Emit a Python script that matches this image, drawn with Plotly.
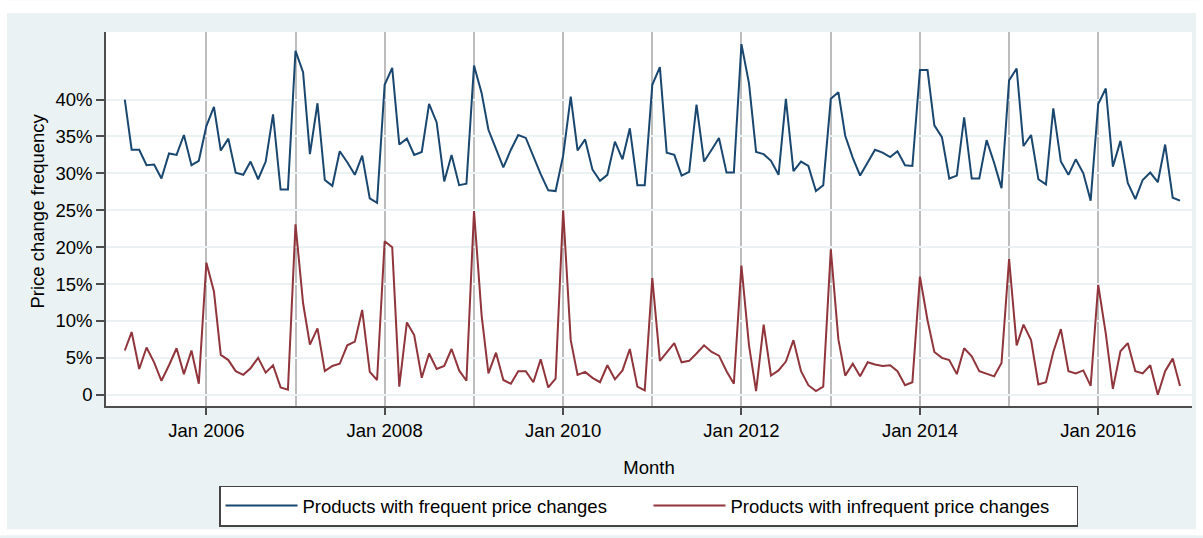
import pandas as pd
import plotly.graph_objects as go

# Monthly observations, Feb 2005 - Dec 2016
months = pd.date_range("2005-02-01", "2016-12-01", freq="MS")

# Share of products changing price (%), frequent changers
frequent = [
    40.0, 33.2, 33.2, 31.1, 31.2, 29.3, 32.7, 32.5, 35.2, 31.1, 31.7,
    36.4, 39.0, 33.1, 34.7, 30.1, 29.8, 31.6, 29.2, 31.6, 38.0, 27.8, 27.8,
    46.6, 43.7, 32.6, 39.5, 29.1, 28.3, 33.0, 31.5, 29.8, 32.4, 26.6, 26.0,
    42.0, 44.3, 33.9, 34.7, 32.5, 32.9, 39.4, 36.9, 28.9, 32.5, 28.4, 28.6,
    44.6, 40.9, 35.9, 33.3, 30.8, 33.2, 35.2, 34.8, 32.3, 29.9, 27.7, 27.6,
    32.4, 40.4, 33.1, 34.6, 30.5, 29.0, 29.8, 34.3, 31.9, 36.1, 28.4, 28.4,
    42.0, 44.4, 32.8, 32.5, 29.7, 30.2, 39.3, 31.6, 33.2, 34.8, 30.1, 30.1,
    47.5, 42.2, 32.9, 32.6, 31.7, 29.8, 40.1, 30.3, 31.6, 31.0, 27.6, 28.4,
    40.1, 41.0, 35.1, 32.1, 29.7, 31.4, 33.2, 32.8, 32.2, 33.0, 31.1, 31.0,
    44.0, 44.0, 36.5, 34.9, 29.3, 29.7, 37.6, 29.3, 29.3, 34.5, 31.4, 28.0,
    42.6, 44.2, 33.7, 35.2, 29.2, 28.5, 38.8, 31.6, 29.8, 31.9, 30.0, 26.3,
    39.4, 41.5, 30.9, 34.4, 28.7, 26.5, 29.1, 30.1, 28.8, 33.9, 26.7, 26.3,
]

# Share of products changing price (%), infrequent changers
infrequent = [
    6.0, 8.5, 3.5, 6.4, 4.4, 1.9, 4.0, 6.3, 2.8, 6.0, 1.5,
    17.9, 14.0, 5.4, 4.7, 3.2, 2.7, 3.6, 5.0, 3.0, 4.0, 1.0, 0.7,
    23.1, 12.4, 6.8, 9.0, 3.2, 3.9, 4.2, 6.7, 7.2, 11.5, 3.1, 2.0,
    20.8, 20.0, 1.1, 9.8, 8.1, 2.3, 5.6, 3.5, 3.9, 6.2, 3.3, 1.9,
    24.9, 10.8, 2.9, 5.7, 2.0, 1.5, 3.2, 3.2, 1.7, 4.8, 1.0, 2.2,
    25.0, 7.4, 2.7, 3.1, 2.3, 1.7, 4.0, 2.1, 3.3, 6.2, 1.1, 0.6,
    15.8, 4.6, 5.8, 7.0, 4.4, 4.6, 5.6, 6.7, 5.8, 5.3, 3.2, 1.5,
    17.5, 6.7, 0.5, 9.5, 2.6, 3.3, 4.5, 7.4, 3.2, 1.3, 0.5, 1.1,
    19.7, 7.5, 2.6, 4.2, 2.5, 4.4, 4.1, 3.9, 4.0, 3.2, 1.3, 1.7,
    16.0, 10.1, 5.8, 5.0, 4.7, 2.8, 6.3, 5.2, 3.2, 2.9, 2.5, 4.3,
    18.4, 6.7, 9.5, 7.4, 1.4, 1.7, 5.8, 8.9, 3.2, 2.9, 3.3, 1.2,
    14.9, 8.3, 0.8, 5.9, 7.0, 3.2, 2.9, 4.0, 0.0, 3.2, 4.9, 1.2,
]

series_names = ["Products with frequent price changes",
                "Products with infrequent price changes"]

# Axis ticks
x_tick_years = [2006, 2008, 2010, 2012, 2014, 2016]
x_line_years = [2007, 2009, 2011, 2013, 2015]
y_tick_vals = [0, 5, 10, 15, 20, 25, 30, 35, 40]
y_tick_text = ["0", "5%", "10%", "15%", "20%", "25%", "30%", "35%", "40%"]

BG = "#eaf2f3"
NAVY = "#1a476f"
MAROON = "#90353b"
AXIS = "#4d4d4d"
FONT = "Liberation Sans, Arial, sans-serif"
FS = 18.5

fig = go.Figure()
fig.add_trace(go.Scatter(x=months, y=frequent, mode="lines", name=series_names[0],
                         line=dict(color=NAVY, width=2)))
fig.add_trace(go.Scatter(x=months, y=infrequent, mode="lines", name=series_names[1],
                         line=dict(color=MAROON, width=2)))

W, H = 1203, 538
ML, MR, MT, MB = 106, 11, 32, 130
pw, ph = W - ML - MR, H - MT - MB


def px_x(p):
    return (p - ML) / pw


def px_y(p):
    return (H - MB - p) / ph


# white outer border around the tinted graph region
for x0, x1, y0, y1 in [(0, 7, 0, H), (1196, W, 0, H), (0, W, 0, 13), (0, W, 532, H)]:
    fig.add_shape(type="rect", xref="paper", yref="paper",
                  x0=px_x(x0), x1=px_x(x1), y0=px_y(y1), y1=px_y(y0),
                  fillcolor="white", line_width=0, layer="above")

# vertical axis title
fig.add_annotation(text="Price change frequency", textangle=-90,
                   xref="paper", yref="paper", x=px_x(38), y=px_y(211.5),
                   xanchor="center", yanchor="middle", showarrow=False,
                   font=dict(family=FONT, size=FS, color="black"))

fig.update_layout(
    width=W, height=H,
    margin=dict(l=ML, r=MR, t=MT, b=MB, pad=0),
    paper_bgcolor=BG, plot_bgcolor="white",
    font=dict(family=FONT, size=FS, color="black"),
    showlegend=True,
    legend=dict(orientation="h", x=px_x(219), xanchor="left",
                y=px_y(488), yanchor="top",
                bgcolor="white", bordercolor="#444444", borderwidth=1.5,
                font=dict(family=FONT, size=FS, color="black"),
                itemwidth=72, entrywidth=341, entrywidthmode="pixels",
                tracegroupgap=0),
    xaxis=dict(
        type="date",
        range=["2004-11-16", "2017-01-19"],
        tickvals=[f"{y}-01-01" for y in x_tick_years],
        ticktext=[f"Jan {y}" for y in x_tick_years],
        ticks="outside", ticklen=7, tickwidth=1.5, tickcolor=AXIS,
        showline=True, linecolor=AXIS, linewidth=1.5,
        showgrid=True, gridcolor="#bdbdbd", gridwidth=1.5,
        minor=dict(tickvals=[f"{y}-01-01" for y in x_line_years],
                   showgrid=True, gridcolor="#bdbdbd", gridwidth=1.5, ticks=""),
        zeroline=False,
        title=dict(text="Month", standoff=21, font=dict(size=FS)),
        tickfont=dict(size=FS),
    ),
    yaxis=dict(
        range=[-1.52, 49.15],
        tickvals=y_tick_vals, ticktext=y_tick_text,
        ticks="outside", ticklen=8, tickwidth=1.5, tickcolor=AXIS,
        showline=True, linecolor=AXIS, linewidth=1.5,
        showgrid=True, gridcolor=BG, gridwidth=1.5,
        zeroline=False,
        tickfont=dict(size=FS),
    ),
)

fig.write_html("out.html")
